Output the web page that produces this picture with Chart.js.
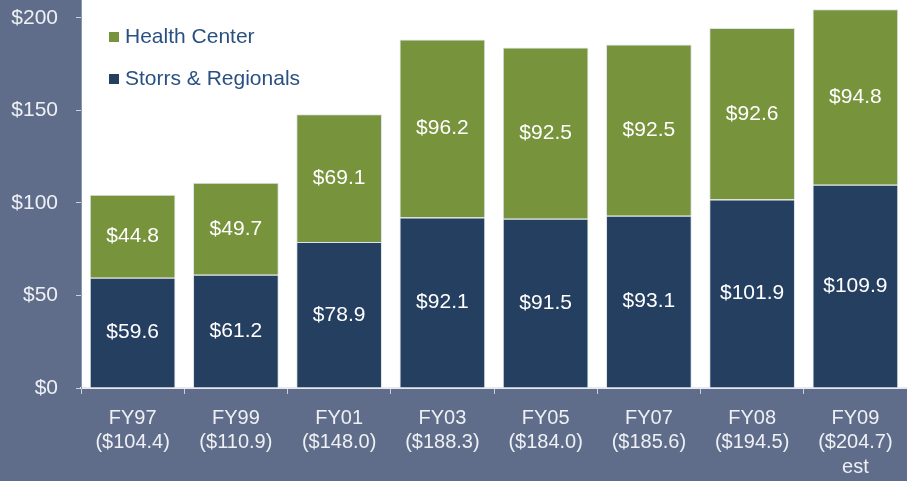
<!DOCTYPE html>
<html>
<head>
<meta charset="utf-8">
<script src="https://cdn.jsdelivr.net/npm/chart.js@4"></script>
<style>
  html, body { margin: 0; padding: 0; background: #5f6d8b; }
  #wrap { width: 907px; height: 481px; }
</style>
</head>
<body>
<div id="wrap"><canvas id="bar-chart" width="907" height="481"></canvas></div>
<script>
const years = ["FY97", "FY99", "FY01", "FY03", "FY05", "FY07", "FY08", "FY09"];
const totals = ["($104.4)", "($110.9)", "($148.0)", "($188.3)", "($184.0)", "($185.6)", "($194.5)", "($204.7)"];
const storrs = [59.6, 61.2, 78.9, 92.1, 91.5, 93.1, 101.9, 109.9];
const health = [44.8, 49.7, 69.1, 96.2, 92.5, 92.5, 92.6, 94.8];
const yTicks = [0, 50, 100, 150, 200];

let labels = years.map((y, i) => {
  let l = [y, totals[i]];
  if (y == "FY09") l.push("est");
  return l;
});

// white plot area
const plotBg = {
  id: 'plotBg',
  beforeDraw(chart) {
    const {ctx, chartArea} = chart;
    ctx.save();
    ctx.fillStyle = '#ffffff';
    ctx.fillRect(chartArea.left, chartArea.top, chartArea.right - chartArea.left, chartArea.bottom - chartArea.top);
    ctx.restore();
  }
};

// values inside the bars
const barValues = {
  id: 'barValues',
  afterDatasetsDraw(chart) {
    const ctx = chart.ctx;
    ctx.save();
    ctx.fillStyle = '#ffffff';
    ctx.font = '21px "Liberation Sans", Arial, sans-serif';
    ctx.textAlign = 'center';
    ctx.textBaseline = 'middle';
    chart.data.datasets.forEach((ds, i) => {
      chart.getDatasetMeta(i).data.forEach((bar, j) => {
        let mid = (bar.y + bar.base) / 2;
        ctx.fillText('$' + ds.data[j].toFixed(1), bar.x, mid);
      });
    });
    ctx.restore();
  }
};

// legend drawn inside the plot area
const innerLegend = {
  id: 'innerLegend',
  afterDraw(chart) {
    const ctx = chart.ctx;
    const items = [chart.data.datasets[1], chart.data.datasets[0]];
    ctx.save();
    ctx.font = '21px "Liberation Sans", Arial, sans-serif';
    ctx.textBaseline = 'middle';
    items.forEach((ds, i) => {
      let y = 37 + i * 42;
      ctx.fillStyle = ds.backgroundColor;
      ctx.fillRect(109, y - 5, 10, 10);
      ctx.fillStyle = '#2a5082';
      ctx.fillText(ds.label, 125, y);
    });
    ctx.restore();
  }
};

new Chart(document.getElementById("bar-chart"), {
  type: 'bar',
  data: {
    labels: labels,
    datasets: [{
      label: "Storrs & Regionals",
      data: storrs,
      backgroundColor: "#243f60",
      borderColor: "#dde3ea",
      borderWidth: 1
    }, {
      label: "Health Center",
      data: health,
      backgroundColor: "#77933c",
      borderColor: "#dde3ea",
      borderWidth: 1
    }]
  },
  options: {
    responsive: false,
    animation: false,
    layout: { padding: 0 },
    datasets: { bar: { barPercentage: 0.83, categoryPercentage: 1 } },
    plugins: {
      legend: { display: false },
      tooltip: { enabled: false }
    },
    scales: {
      x: {
        stacked: true,
        grid: { drawOnChartArea: false, tickLength: 6, color: '#c9cfdb' },
        border: { color: '#e6e9ef', width: 2 },
        ticks: {
          color: '#eef0f4',
          font: { family: '"Liberation Sans", Arial, sans-serif', size: 20, lineHeight: 1.22 },
          maxRotation: 0,
          padding: 12
        },
        afterFit(scale) { scale.height = 93; scale.paddingLeft = 0; scale.paddingRight = 0; }
      },
      y: {
        stacked: true,
        min: 0,
        max: 209.7,
        grid: { drawOnChartArea: false, tickLength: 5, color: '#c9cfdb' },
        border: { color: '#8a96ad', width: 1 },
        afterBuildTicks(scale) { scale.ticks = yTicks.map(v => ({ value: v })); },
        ticks: {
          color: '#eef0f4',
          font: { family: '"Liberation Sans", Arial, sans-serif', size: 21 },
          padding: 18,
          callback: v => '$' + v
        },
        afterFit(scale) { scale.width = 81; scale.paddingTop = 0; scale.paddingBottom = 0; }
      }
    }
  },
  plugins: [plotBg, barValues, innerLegend]
});
</script>
</body>
</html>
